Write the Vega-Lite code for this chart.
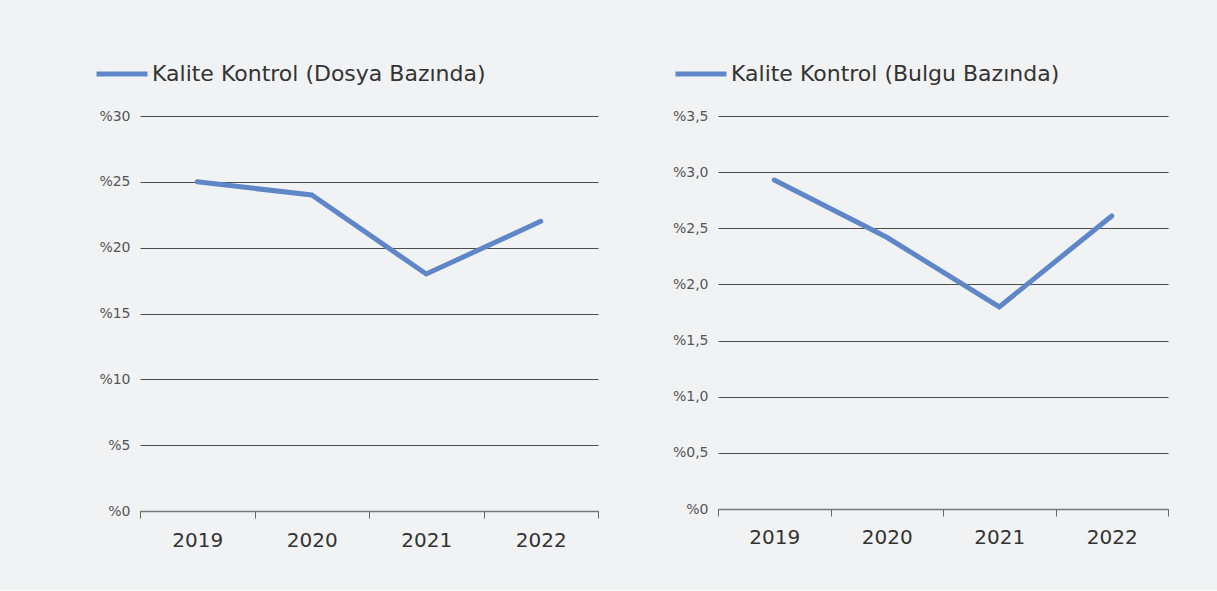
{
  "$schema": "https://vega.github.io/schema/vega-lite/v6.json",
  "padding": {"left": 94, "top": 46, "right": 51, "bottom": 40},
  "background": "#f1f2f4",
  "bounds": "flush",
  "spacing": 120,
  "config": {
    "view": {"stroke": null},
    "font": "DejaVu Sans",
    "axis": {"labelFont": "DejaVu Sans"},
    "legend": {"labelFont": "DejaVu Sans"}
  },
  "datasets": {
    "dosya": [
      {"yil": "2019", "oran": 25, "seri": "Kalite Kontrol (Dosya Bazında)"},
      {"yil": "2020", "oran": 24, "seri": "Kalite Kontrol (Dosya Bazında)"},
      {"yil": "2021", "oran": 18, "seri": "Kalite Kontrol (Dosya Bazında)"},
      {"yil": "2022", "oran": 22, "seri": "Kalite Kontrol (Dosya Bazında)"}
    ],
    "bulgu": [
      {"yil": "2019", "oran": 2.93, "seri": "Kalite Kontrol (Bulgu Bazında)"},
      {"yil": "2020", "oran": 2.42, "seri": "Kalite Kontrol (Bulgu Bazında)"},
      {"yil": "2021", "oran": 1.8, "seri": "Kalite Kontrol (Bulgu Bazında)"},
      {"yil": "2022", "oran": 2.61, "seri": "Kalite Kontrol (Bulgu Bazında)"}
    ]
  },
  "hconcat": [
    {
      "width": 458,
      "height": 395,
      "data": {"name": "dosya"},
      "mark": {"type": "line", "strokeWidth": 5, "strokeCap": "round", "strokeJoin": "miter"},
      "encoding": {
        "x": {
          "field": "yil", "type": "ordinal",
          "scale": {"type": "band", "paddingInner": 0, "paddingOuter": 0},
          "axis": {
            "title": null, "labelAngle": 0, "labelFontSize": 20, "labelColor": "#333333",
            "labelPadding": 12, "tickBand": "extent", "tickSize": 7, "tickColor": "#666666",
            "domainColor": "#777777", "domainWidth": 1.5, "grid": false
          }
        },
        "y": {
          "field": "oran", "type": "quantitative",
          "scale": {"domain": [0, 30], "nice": false},
          "axis": {
            "title": null, "values": [0, 5, 10, 15, 20, 25, 30],
            "labelExpr": "'%' + datum.value",
            "labelFontSize": 14, "labelColor": "#555555", "labelPadding": 10,
            "domain": false, "ticks": false, "grid": true,
            "gridColor": "#4d4d4d", "gridWidth": 1.2, "gridOpacity": 1
          }
        },
        "color": {
          "field": "seri", "type": "nominal",
          "scale": {"range": ["#5f87c7"]},
          "legend": {
            "title": null, "orient": "none", "legendX": -46, "legendY": -70,
            "symbolType": "stroke", "symbolSize": 2601, "symbolStrokeWidth": 5,
            "labelFontSize": 22, "labelColor": "#333333", "labelOffset": 2, "labelLimit": 600
          }
        }
      }
    },
    {
      "width": 450,
      "height": 393,
      "data": {"name": "bulgu"},
      "mark": {"type": "line", "strokeWidth": 5, "strokeCap": "round", "strokeJoin": "miter"},
      "encoding": {
        "x": {
          "field": "yil", "type": "ordinal",
          "scale": {"type": "band", "paddingInner": 0, "paddingOuter": 0},
          "axis": {
            "title": null, "labelAngle": 0, "labelFontSize": 20, "labelColor": "#333333",
            "labelPadding": 11, "tickBand": "extent", "tickSize": 7, "tickColor": "#666666",
            "domainColor": "#777777", "domainWidth": 1.5, "grid": false
          }
        },
        "y": {
          "field": "oran", "type": "quantitative",
          "scale": {"domain": [0, 3.5], "nice": false},
          "axis": {
            "title": null, "values": [0, 0.5, 1, 1.5, 2, 2.5, 3, 3.5],
            "labelExpr": "datum.value == 0 ? '%0' : '%' + replace(format(datum.value, '.1f'), '.', ',')",
            "labelFontSize": 14, "labelColor": "#555555", "labelPadding": 10,
            "domain": false, "ticks": false, "grid": true,
            "gridColor": "#4d4d4d", "gridWidth": 1.2, "gridOpacity": 1
          }
        },
        "color": {
          "field": "seri", "type": "nominal",
          "scale": {"range": ["#5f87c7"]},
          "legend": {
            "title": null, "orient": "none", "legendX": -45, "legendY": -70,
            "symbolType": "stroke", "symbolSize": 2601, "symbolStrokeWidth": 5,
            "labelFontSize": 22, "labelColor": "#333333", "labelOffset": 2, "labelLimit": 600
          }
        }
      }
    }
  ],
  "resolve": {"scale": {"y": "independent", "color": "independent"}, "legend": {"color": "independent"}}
}
